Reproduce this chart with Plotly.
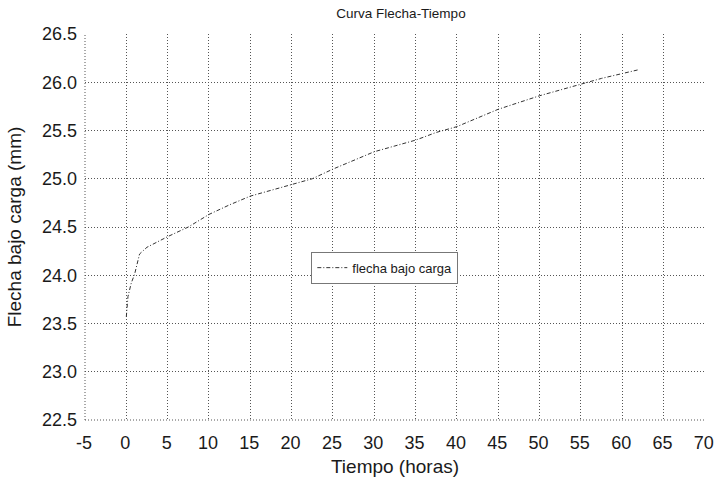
import plotly.graph_objects as go

tiempo = [0, 0.2, 0.6, 1.0, 1.6, 2.5, 5, 7.5, 10, 12.5, 15, 17.5, 20, 22.5, 25, 27.5,
          30, 32.5, 35, 37.5, 40, 42.5, 45, 47.5, 50, 52.5, 55, 57.5, 60, 62]
flecha = [23.57, 23.78, 23.92, 24.01, 24.22, 24.29, 24.40, 24.50, 24.63, 24.73, 24.82,
          24.88, 24.94, 25.00, 25.10, 25.19, 25.28, 25.34, 25.40, 25.48, 25.54, 25.63,
          25.72, 25.79, 25.86, 25.92, 25.98, 26.04, 26.09, 26.13]

x_ticks = list(range(-5, 75, 5))
y_ticks = [22.5, 23.0, 23.5, 24.0, 24.5, 25.0, 25.5, 26.0, 26.5]

fig = go.Figure()
fig.add_trace(go.Scatter(
    x=tiempo, y=flecha, mode="lines", name="flecha bajo carga",
    line=dict(color="#333333", width=1, dash="4px,2px,1px,2px"),
))

grid_col = "#555555"
grid_dash = "1px,2px"
fnt = "Liberation Sans, Arial, sans-serif"
txt = "#1a1a1a"

W, H = 715, 482

fig.update_layout(
    width=W, height=H,
    margin=dict(l=85, r=10, t=34, b=62),
    paper_bgcolor="white", plot_bgcolor="white",
    title=dict(text="Curva Flecha-Tiempo", x=401 / W, xanchor="center",
               y=1 - 13.5 / H, yanchor="middle",
               font=dict(family=fnt, size=13.5, color=txt)),
    font=dict(family=fnt, color=txt),
    showlegend=True,
    legend=dict(x=0.365, y=0.436, xanchor="left", yanchor="top",
                bgcolor="white", bordercolor="#777777", borderwidth=1,
                font=dict(family=fnt, size=13, color=txt),
                itemwidth=30, tracegroupgap=0),
    xaxis=dict(range=[-5, 70.02], tickmode="array", tickvals=x_ticks,
               ticktext=[str(v) for v in x_ticks],
               showgrid=True, gridcolor=grid_col, griddash=grid_dash, gridwidth=1,
               zeroline=False, showline=False, ticks="", automargin=False,
               ticklabelstandoff=10, ticklabelshift=-1, ticklabeloverflow="allow",
               tickfont=dict(family=fnt, size=18, color=txt),
               title=dict(text="Tiempo (horas)", standoff=7,
                          font=dict(family=fnt, size=19, color=txt))),
    yaxis=dict(range=[22.5, 26.5], tickmode="array", tickvals=y_ticks,
               ticktext=[f"{v:.1f}" for v in y_ticks],
               showgrid=True, gridcolor=grid_col, griddash=grid_dash, gridwidth=1,
               zeroline=False, showline=False, ticks="", automargin=False,
               ticklabelstandoff=7,
               tickfont=dict(family=fnt, size=18, color=txt),
               title=dict(text="Flecha bajo carga (mm)", standoff=15,
                          font=dict(family=fnt, size=19, color=txt))),
)

# dotted axis lines at left and bottom
fig.add_shape(type="line", xref="paper", yref="paper", x0=0, x1=0, y0=0, y1=1,
              line=dict(color=grid_col, width=1, dash=grid_dash))
fig.add_shape(type="line", xref="paper", yref="paper", x0=0, x1=1, y0=0, y1=0,
              line=dict(color=grid_col, width=1, dash=grid_dash))

fig.write_html("out.html",
               config={"displayModeBar": False},
               post_script="document.body.style.margin='0';")
